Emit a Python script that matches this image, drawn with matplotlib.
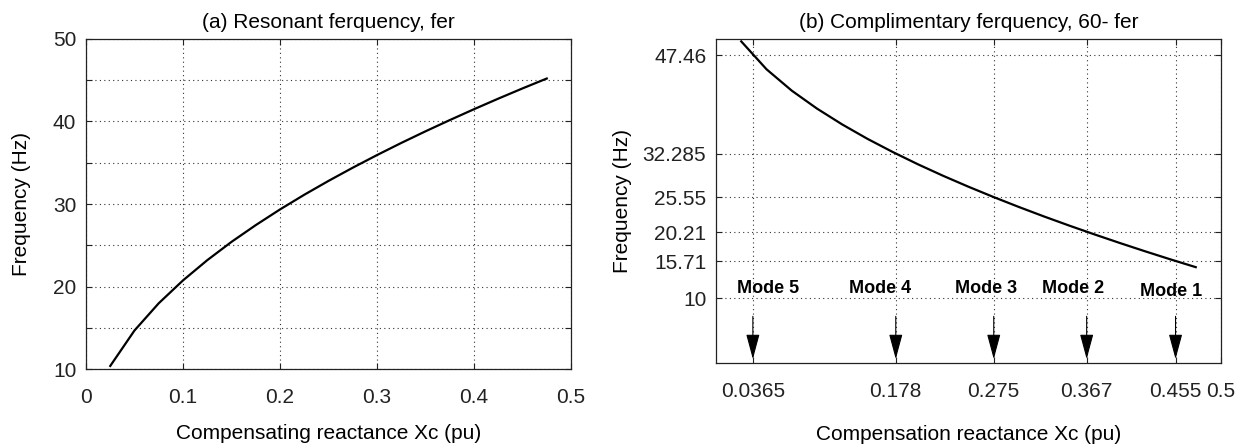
import numpy as np
import matplotlib
matplotlib.use("Agg")
import matplotlib.pyplot as plt

plt.rcParams["font.family"] = ["Liberation Sans", "DejaVu Sans"]

# Compensating reactance (pu) and resonant frequency fer (Hz)
xc = [0.025, 0.05, 0.075, 0.1, 0.125, 0.15, 0.175, 0.2, 0.225, 0.25,
      0.275, 0.3, 0.325, 0.35, 0.375, 0.4, 0.425, 0.45, 0.475]
fer = [10.37, 14.67, 17.97, 20.74, 23.19, 25.41, 27.44, 29.34, 31.12, 32.80,
       34.40, 35.93, 37.40, 38.81, 40.17, 41.49, 42.77, 44.01, 45.21]

# Torsional modes: compensation level and complementary frequency
mode_names = ["Mode 5", "Mode 4", "Mode 3", "Mode 2", "Mode 1"]
mode_xc = [0.0365, 0.178, 0.275, 0.367, 0.455]
mode_freq = [47.46, 32.285, 25.55, 20.21, 15.71]

f_sys = 60.0
comp = [f_sys - f for f in fer]

FS = 15
grid_kw = dict(color="#333333", linestyle=(0, (1, 3)), linewidth=0.8)

fig = plt.figure(figsize=(12.47, 4.48), dpi=100)
ax1 = fig.add_axes([86 / 1247, 79 / 448, 485 / 1247, 330 / 448])
ax2 = fig.add_axes([716 / 1247, 85 / 448, 505 / 1247, 324 / 448])

# (a) resonant frequency
ax1.plot(xc, fer, color="black", linewidth=1.6)
ax1.set_xlim(0, 0.5)
ax1.set_ylim(10, 50)
ax1.set_xticks([0, 0.1, 0.2, 0.3, 0.4, 0.5])
ax1.set_xticklabels(["0", "0.1", "0.2", "0.3", "0.4", "0.5"])
yt = np.arange(10, 51, 5)
ax1.set_yticks(yt)
ax1.set_yticklabels([str(v) if v % 10 == 0 else "" for v in yt])
ax1.grid(True, **grid_kw)
ax1.set_title("(a) Resonant ferquency, fer", fontsize=FS, pad=8)
ax1.set_xlabel("Compensating reactance Xc (pu)", fontsize=FS, labelpad=12)
ax1.set_ylabel("Frequency (Hz)", fontsize=FS, labelpad=16)

# (b) complementary frequency 60 - fer
ax2.plot(xc, comp, color="black", linewidth=1.6)
ax2.set_xlim(0, 0.5)
ax2.set_ylim(0, 50)
ax2.set_xticks(mode_xc + [0.5])
ax2.set_xticklabels([str(v) for v in mode_xc] + ["0.5"])
ax2.set_yticks([10] + sorted(mode_freq))
ax2.set_yticklabels(["10"] + [str(v) for v in sorted(mode_freq)])
ax2.grid(True, **grid_kw)
ax2.set_title("(b) Complimentary ferquency, 60- fer", fontsize=FS, pad=8)
ax2.set_xlabel("Compensation reactance Xc (pu)", fontsize=FS, labelpad=17)
ax2.set_ylabel("Frequency (Hz)", fontsize=FS, labelpad=8)

label_dx = [0.015, -0.0155, -0.0072, -0.013, -0.004]
label_y = [11.5, 11.5, 11.5, 11.5, 11.1]
for name, x, dx, ly in zip(mode_names, mode_xc, label_dx, label_y):
    ax2.annotate("", xy=(x, 0.6), xytext=(x, 7.2),
                 arrowprops=dict(arrowstyle="-|>,head_length=1.3,head_width=0.35",
                                 color="black", linewidth=0.8,
                                 shrinkA=0, shrinkB=0, mutation_scale=12))
    ax2.text(x + dx, ly, name, ha="center", va="center",
             fontsize=13, fontweight="bold", color="black")

for ax in (ax1, ax2):
    ax.tick_params(direction="in", top=True, right=True, labelsize=FS,
                   length=4, width=0.8, colors="#222222", pad=7)
    ax.tick_params(axis="x", pad=14)
    for s in ax.spines.values():
        s.set_linewidth(0.9)
        s.set_color("#222222")

fig.savefig("out.png", dpi=100)
